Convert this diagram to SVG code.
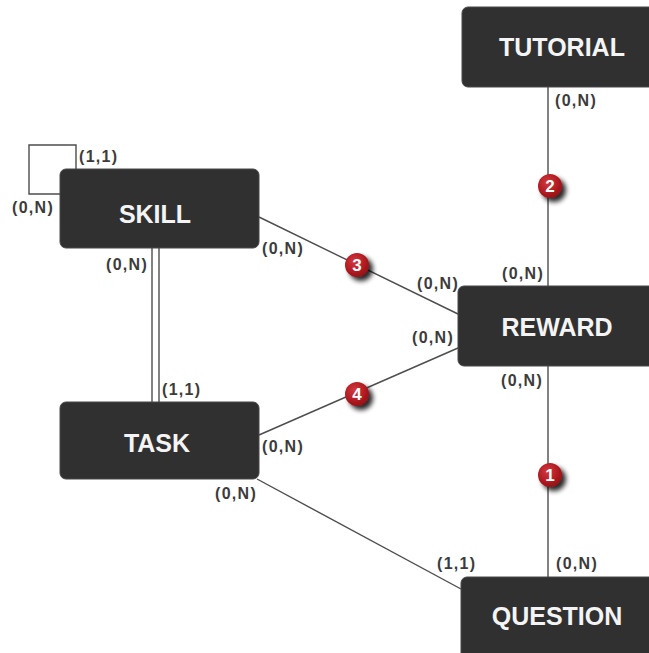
<svg xmlns="http://www.w3.org/2000/svg" width="649" height="653" viewBox="0 0 649 653">
  <style>
    .box { fill: #313030; stroke: #4a4848; stroke-width: 1; }
    .title { font-family: "Liberation Sans", Arial, sans-serif; font-weight: bold; font-size: 25px; fill: #f4f4f4; text-anchor: middle; }
    .card { font-family: "Liberation Sans", Arial, sans-serif; font-weight: bold; font-size: 16px; letter-spacing: 1.3px; fill: #3c3c3c; }
    .link { fill: none; stroke: #4d4d4d; stroke-width: 1.4; }
    .num { font-family: "Liberation Sans", Arial, sans-serif; font-weight: bold; font-size: 17px; fill: #ffffff; text-anchor: middle; }
  </style>
  <defs>
    <radialGradient id="badgeFill" cx="0.4" cy="0.35" r="0.7">
      <stop offset="0" stop-color="#d23a3f"/>
      <stop offset="0.6" stop-color="#b21c22"/>
      <stop offset="1" stop-color="#8e1015"/>
    </radialGradient>
    <filter id="badgeShadow" x="-50%" y="-50%" width="220%" height="220%">
      <feGaussianBlur in="SourceAlpha" stdDeviation="2.5"/>
      <feOffset dx="3.5" dy="3.5" result="blur"/>
      <feComponentTransfer><feFuncA type="linear" slope="0.85"/></feComponentTransfer>
      <feMerge><feMergeNode/><feMergeNode in="SourceGraphic"/></feMerge>
    </filter>
  </defs>

  <rect width="649" height="653" fill="#ffffff"/>

  <!-- relationships -->
  <g id="connectors">
    <!-- SKILL self reference -->
    <polyline class="link" points="76,169 76,145 29,145 29,194 60,194"/>
    <!-- SKILL / TASK double line -->
    <line class="link" x1="152" y1="248" x2="152" y2="402"/>
    <line class="link" x1="159" y1="248" x2="159" y2="402"/>
    <!-- SKILL / REWARD -->
    <line class="link" x1="259" y1="217" x2="458" y2="314"/>
    <!-- TASK / REWARD -->
    <line class="link" x1="259" y1="435" x2="458" y2="348"/>
    <!-- TASK / QUESTION -->
    <line class="link" x1="257" y1="479" x2="461" y2="589"/>
    <!-- TUTORIAL / REWARD -->
    <line class="link" x1="548" y1="87" x2="548" y2="286"/>
    <!-- REWARD / QUESTION -->
    <line class="link" x1="548" y1="366" x2="548" y2="577"/>

    <!-- cardinalities -->
    <text class="card" x="79" y="162">(1,1)</text>
    <text class="card" x="12" y="213">(0,N)</text>
    <text class="card" x="106" y="270">(0,N)</text>
    <text class="card" x="162" y="395">(1,1)</text>
    <text class="card" x="262" y="254">(0,N)</text>
    <text class="card" x="417" y="289">(0,N)</text>
    <text class="card" x="412" y="343">(0,N)</text>
    <text class="card" x="262" y="452">(0,N)</text>
    <text class="card" x="215" y="499">(0,N)</text>
    <text class="card" x="437" y="569">(1,1)</text>
    <text class="card" x="555" y="106">(0,N)</text>
    <text class="card" x="502" y="279">(0,N)</text>
    <text class="card" x="501" y="386">(0,N)</text>
    <text class="card" x="556" y="569">(0,N)</text>

    <!-- numbered badges -->
    <g filter="url(#badgeShadow)">
      <circle cx="550" cy="475" r="12" fill="url(#badgeFill)"/>
      <circle cx="550" cy="186" r="12" fill="url(#badgeFill)"/>
      <circle cx="357" cy="265" r="12" fill="url(#badgeFill)"/>
      <circle cx="357" cy="394" r="12" fill="url(#badgeFill)"/>
    </g>
    <text class="num" x="550" y="481">1</text>
    <text class="num" x="550" y="192">2</text>
    <text class="num" x="357" y="271">3</text>
    <text class="num" x="357" y="400">4</text>
  </g>

  <!-- entities -->
  <g id="tutorial">
    <rect class="box" x="462" y="7" width="200" height="80" rx="6"/>
    <text class="title" x="562" y="56">TUTORIAL</text>
  </g>
  <g id="skill">
    <rect class="box" x="60" y="169" width="199" height="79" rx="6"/>
    <text class="title" x="155" y="223">SKILL</text>
  </g>
  <g id="reward">
    <rect class="box" x="458" y="286" width="200" height="80" rx="6"/>
    <text class="title" x="557" y="336">REWARD</text>
  </g>
  <g id="task">
    <rect class="box" x="60" y="402" width="199" height="77" rx="6"/>
    <text class="title" x="157" y="452">TASK</text>
  </g>
  <g id="question">
    <rect class="box" x="461" y="577" width="200" height="84" rx="6"/>
    <text class="title" x="557" y="625">QUESTION</text>
  </g>
</svg>
